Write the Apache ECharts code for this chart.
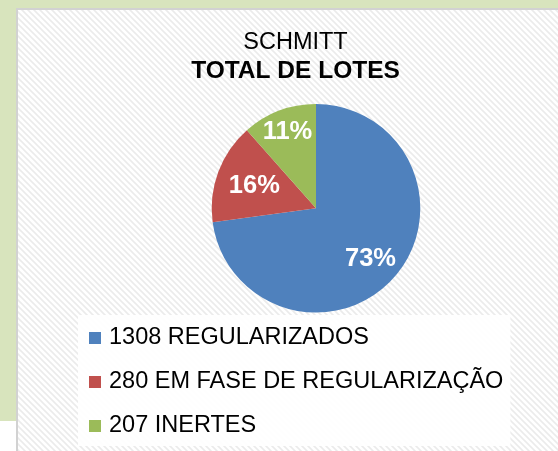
<!DOCTYPE html>
<html>
<head>
<meta charset="utf-8">
<script src="https://cdn.jsdelivr.net/npm/echarts@6/dist/echarts.min.js"></script>
<style>
html,body{margin:0;padding:0;background:#fff;}
#chart{width:558px;height:451px;}
</style>
</head>
<body>
<div id="chart"></div>
<script>
// ---- data ----
var categories = ['REGULARIZADOS', 'EM FASE DE REGULARIZAÇÃO', 'INERTES'];
var values = [1308, 280, 207];
var colors = ['#4f81bd', '#c0504d', '#9bbb59'];
var titleLine1 = 'SCHMITT';
var titleLine2 = 'TOTAL DE LOTES';
// label nudges (style only)
var labelOffsets = [[13, 14], [-10, -3], [-9, -25]];

var FONT = '"Liberation Sans", Arial, sans-serif';

// stripe pattern for panel background
var tile = document.createElement('canvas');
tile.width = 6; tile.height = 6;
var tc = tile.getContext('2d');
tc.fillStyle = '#ffffff';
tc.fillRect(0, 0, 6, 6);
tc.strokeStyle = '#ebebeb';
tc.lineWidth = 1.6;
tc.beginPath();
tc.moveTo(-1, -1); tc.lineTo(7, 7);
tc.moveTo(-1, 5); tc.lineTo(1, 7);
tc.moveTo(5, -1); tc.lineTo(7, 1);
tc.stroke();

var chart = echarts.init(document.getElementById('chart'), null, {renderer: 'canvas'});

var pieData = categories.map(function (c, i) {
  return {
    name: values[i] + ' ' + c,
    value: values[i],
    itemStyle: {color: colors[i]},
    label: {offset: labelOffsets[i]}
  };
});

chart.setOption({
  animation: false,
  graphic: [
    {type: 'rect', z: -10, silent: true, shape: {x: 0, y: 0, width: 558, height: 451}, style: {fill: '#ffffff'}},
    {type: 'rect', z: -9, silent: true, shape: {x: 0, y: 0, width: 558, height: 421}, style: {fill: '#d8e4bd'}},
    {type: 'rect', z: -8, silent: true, shape: {x: 16, y: 8, width: 560, height: 460}, style: {fill: '#d2d2d2'}},
    {type: 'rect', z: -7, silent: true, shape: {x: 18, y: 10, width: 560, height: 460}, style: {fill: {image: tile, repeat: 'repeat'}}}
  ],
  title: {
    text: '{a|' + titleLine1 + '}\n{b|' + titleLine2 + '}',
    left: 295.5,
    top: 29,
    padding: 0,
    textAlign: 'center',
    textStyle: {
      rich: {
        a: {fontFamily: FONT, fontSize: 23.5, fontWeight: 'normal', color: '#000', lineHeight: 28, align: 'center'},
        b: {fontFamily: FONT, fontSize: 24.5, fontWeight: 'bold', color: '#000', lineHeight: 28, align: 'center'}
      }
    }
  },
  legend: {
    orient: 'vertical',
    left: 78,
    top: 315,
    padding: [11, 7, 8, 11],
    backgroundColor: 'rgba(255,255,255,0.92)',
    itemWidth: 12,
    itemHeight: 12,
    itemGap: 20,
    icon: 'rect',
    selectedMode: false,
    textStyle: {fontFamily: FONT, fontSize: 23.5, color: '#000', lineHeight: 22, padding: [0, 0, 0, 3]},
    data: pieData.map(function (d) { return d.name; })
  },
  series: [{
    type: 'pie',
    center: [316, 208.3],
    radius: 104.3,
    startAngle: 90,
    clockwise: true,
    percentPrecision: 0,
    avoidLabelOverlap: false,
    itemStyle: {borderWidth: 0},
    emphasis: {disabled: true},
    label: {
      show: true,
      position: 'inside',
      formatter: '{d}%',
      fontFamily: FONT,
      fontSize: 25.5,
      fontWeight: 'bold',
      color: '#ffffff'
    },
    labelLine: {show: false},
    data: pieData
  }]
});
</script>
</body>
</html>
